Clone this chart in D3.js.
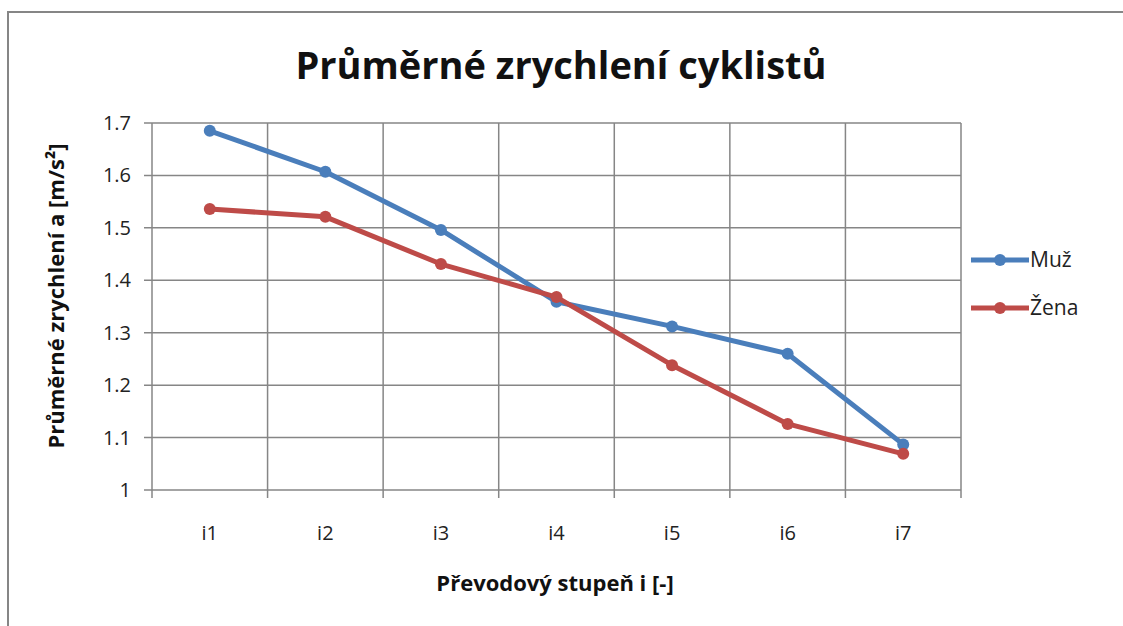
<!DOCTYPE html>
<html>
<head>
<meta charset="utf-8">
<script src="https://cdn.jsdelivr.net/npm/d3@7"></script>
<style>
  body { margin: 0; background: #fff; }
  svg { display: block; font-family: "Open Sans", sans-serif; }
</style>
</head>
<body>
<svg width="1123" height="626"></svg>
<script>
// chart values
const categories = ["i1", "i2", "i3", "i4", "i5", "i6", "i7"];
const muz = [1.685, 1.607, 1.496, 1.359, 1.312, 1.260, 1.087];
const zena = [1.536, 1.521, 1.431, 1.368, 1.238, 1.126, 1.069];
const yTicks = [1, 1.1, 1.2, 1.3, 1.4, 1.5, 1.6, 1.7];

const seriesList = [
  { name: "Muž", values: muz, color: "#4a7ebb" },
  { name: "Žena", values: zena, color: "#be4b48" }
];

const svg = d3.select("svg");

// frame
svg.append("rect")
  .attr("x", 8).attr("y", 12)
  .attr("width", 1130).attr("height", 630)
  .attr("fill", "#fff")
  .attr("stroke", "#868686")
  .attr("stroke-width", 2);

const plotLeft = 152, plotRight = 961, plotTop = 123, plotBottom = 490;

const x = d3.scaleBand().domain(categories).range([plotLeft, plotRight]);
const y = d3.scaleLinear().domain([1, 1.7]).range([plotBottom, plotTop]);

// horizontal grid
svg.append("g")
  .selectAll("line")
  .data(yTicks)
  .enter().append("line")
    .attr("x1", plotLeft - 8).attr("x2", plotRight)
    .attr("y1", d => y(d)).attr("y2", d => y(d))
    .attr("stroke", "#868686")
    .attr("stroke-width", 1.5);

// vertical grid at category edges
const edges = categories.map(c => x(c)).concat([plotRight]);
svg.append("g")
  .selectAll("line")
  .data(edges)
  .enter().append("line")
    .attr("x1", d => d).attr("x2", d => d)
    .attr("y1", plotTop).attr("y2", plotBottom + 8)
    .attr("stroke", "#868686")
    .attr("stroke-width", 1.5);

// y tick labels
svg.append("g")
  .selectAll("text")
  .data(yTicks)
  .enter().append("text")
    .attr("x", plotLeft - 21)
    .attr("y", d => y(d))
    .attr("dy", "0.35em")
    .attr("text-anchor", "end")
    .attr("font-size", 20)
    .attr("fill", "#222")
    .text(d => d3.format("")(+d.toFixed(1)));

// x tick labels
svg.append("g")
  .selectAll("text")
  .data(categories)
  .enter().append("text")
    .attr("x", d => x(d) + x.bandwidth() / 2)
    .attr("y", 533)
    .attr("dy", "0.35em")
    .attr("text-anchor", "middle")
    .attr("font-size", 20)
    .attr("fill", "#222")
    .text(d => d);

// titles
svg.append("text")
  .attr("x", 561).attr("y", 79)
  .attr("text-anchor", "middle")
  .attr("font-size", 38)
  .attr("font-weight", "bold")
  .attr("fill", "#111")
  .text("Průměrné zrychlení cyklistů");

svg.append("text")
  .attr("x", 555).attr("y", 583)
  .attr("dy", "0.35em")
  .attr("text-anchor", "middle")
  .attr("font-size", 22)
  .attr("font-weight", "bold")
  .attr("fill", "#111")
  .text("Převodový stupeň i [-]");

svg.append("text")
  .attr("transform", "translate(56," + 296 + ") rotate(-90)")
  .attr("dy", "0.35em")
  .attr("text-anchor", "middle")
  .attr("font-size", 22)
  .attr("font-weight", "bold")
  .attr("fill", "#111")
  .text("Průměrné zrychlení a [m/s²]");

// series
const line = d3.line()
  .x((d, i) => x(categories[i]) + x.bandwidth() / 2)
  .y(d => y(d));

seriesList.forEach(s => {
  svg.append("path")
    .datum(s.values)
    .attr("fill", "none")
    .attr("stroke", s.color)
    .attr("stroke-width", 5)
    .attr("stroke-linejoin", "round")
    .attr("d", line);

  svg.append("g")
    .selectAll("circle")
    .data(s.values)
    .enter().append("circle")
      .attr("cx", (d, i) => x(categories[i]) + x.bandwidth() / 2)
      .attr("cy", d => y(d))
      .attr("r", 6)
      .attr("fill", s.color);
});

// legend
const legend = svg.append("g")
  .selectAll("g")
  .data(seriesList)
  .enter().append("g")
    .attr("transform", (d, i) => "translate(971," + (260 + i * 48) + ")");

legend.append("line")
  .attr("x1", 0).attr("x2", 58)
  .attr("stroke", d => d.color)
  .attr("stroke-width", 5);

legend.append("circle")
  .attr("cx", 29).attr("r", 6)
  .attr("fill", d => d.color);

legend.append("text")
  .attr("x", 59)
  .attr("dy", "0.35em")
  .attr("font-size", 21)
  .attr("fill", "#222")
  .text(d => d.name);
</script>
</body>
</html>
